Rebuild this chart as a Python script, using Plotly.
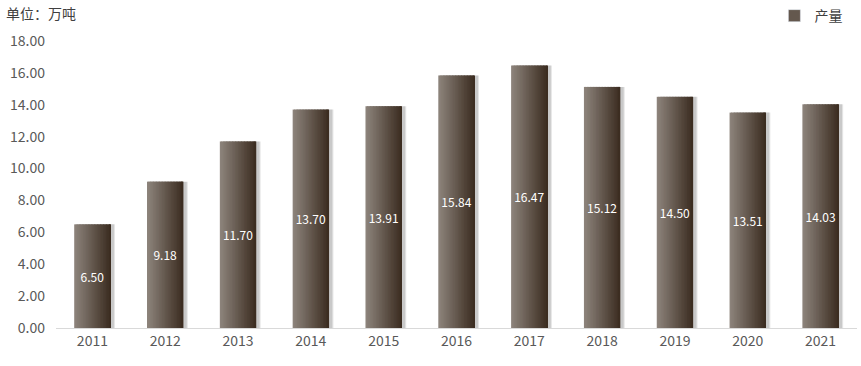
import plotly.graph_objects as go

years = ["2011", "2012", "2013", "2014", "2015", "2016", "2017", "2018", "2019", "2020", "2021"]
output = [6.50, 9.18, 11.70, 13.70, 13.91, 15.84, 16.47, 15.12, 14.50, 13.51, 14.03]
y_ticks = [0, 2, 4, 6, 8, 10, 12, 14, 16, 18]
series_name = "产量"
unit_label = "单位：万吨"

FONT = "Microsoft YaHei, Noto Sans CJK SC, sans-serif"
BAR_W = 0.5
left_rgb = (140, 131, 123)
right_rgb = (60, 45, 33)

fig = go.Figure()

# shadow
for shift, alpha in [(0.06, 0.10), (0.045, 0.12)]:
    fig.add_trace(go.Bar(
        x=years, y=output, width=BAR_W, offset=-BAR_W / 2 + shift,
        marker=dict(color=f"rgba(0,0,0,{alpha})", line=dict(width=0)),
        showlegend=False, hoverinfo="skip"))

# gradient stripes
N = 24
for i in range(N):
    t = i / (N - 1)
    c = tuple(round(left_rgb[k] + (right_rgb[k] - left_rgb[k]) * t) for k in range(3))
    w = BAR_W / N * (1.6 if i < N - 1 else 1.0)
    fig.add_trace(go.Bar(
        x=years, y=output, width=w, offset=-BAR_W / 2 + i * BAR_W / N,
        marker=dict(color=f"rgb{c}", line=dict(width=0)),
        showlegend=False, hoverinfo="skip"))

# labels
fig.add_trace(go.Bar(
    x=years, y=output, width=BAR_W, offset=-BAR_W / 2, name=series_name,
    marker=dict(color="rgba(0,0,0,0)", line=dict(width=0)),
    text=[f"{v:.2f}" for v in output], textposition="inside",
    insidetextanchor="middle", textangle=0,
    textfont=dict(color="white", size=12, family=FONT),
    showlegend=False, hoverinfo="skip"))

# legend entry
fig.add_trace(go.Bar(
    x=[None], y=[None], name=series_name,
    marker=dict(color="rgb(100,88,78)"), showlegend=True))

fig.update_layout(
    width=861, height=366,
    margin=dict(l=56, r=4, t=41, b=38, autoexpand=False),
    barmode="overlay",
    plot_bgcolor="white", paper_bgcolor="white",
    font=dict(family=FONT, color="#595959", size=14),
    showlegend=True,
    legend=dict(x=0.988, y=1.087, xanchor="right", yanchor="middle",
                orientation="h", font=dict(size=14, color="#404040"),
                bgcolor="rgba(0,0,0,0)", itemwidth=30, tracegroupgap=0),
    annotations=[dict(text=unit_label, x=0, y=1, xref="paper", yref="paper",
                      xanchor="left", yanchor="middle", showarrow=False,
                      xshift=-52, yshift=28, font=dict(size=14, color="#404040"))],
    xaxis=dict(type="category", showgrid=False, showline=True, linecolor="#d9d9d9",
               linewidth=1, ticks="", tickfont=dict(size=14, color="#595959")),
    yaxis=dict(range=[0, 18], tickvals=y_ticks, tickformat=".2f", showgrid=False,
               zeroline=False, showline=False, ticks="", ticklabelstandoff=10,
               tickfont=dict(size=14, color="#595959")),
)

fig.write_html("out.html")
